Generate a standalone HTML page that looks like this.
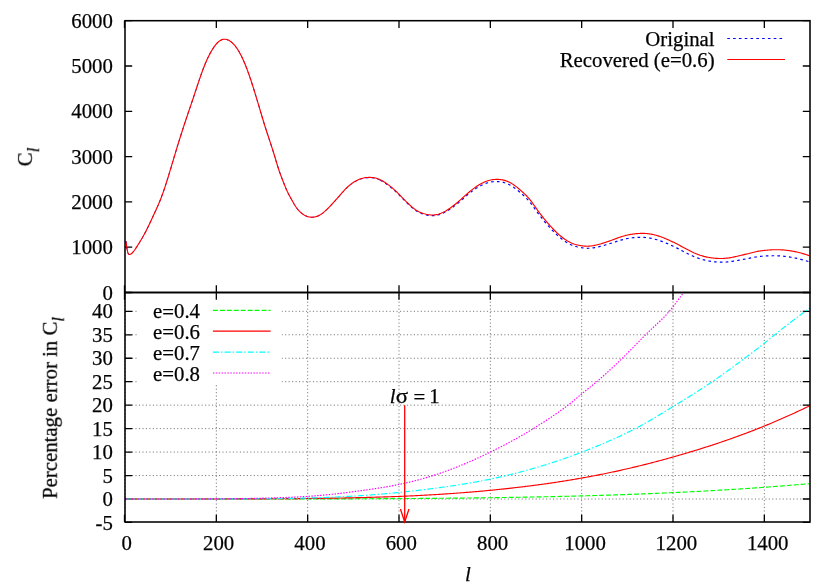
<!DOCTYPE html>
<html><head><meta charset="utf-8"><title>C_l recovery</title>
<style>
html,body{margin:0;padding:0;background:#fff;}
body{width:835px;height:585px;overflow:hidden;font-family:"Liberation Serif",serif;}
svg{display:block;}
</style></head><body>
<svg width="835" height="585" viewBox="0 0 835 585">
<rect width="835" height="585" fill="#fff"/>
<g stroke="#000" stroke-opacity="0.58" stroke-width="0.9" stroke-dasharray="1.16 2.32" fill="none">
<path d="M125.00,499.00 H810.00"/>
<path d="M125.00,475.54 H810.00"/>
<path d="M125.00,452.08 H810.00"/>
<path d="M125.00,428.62 H810.00"/>
<path d="M125.00,405.16 H810.00"/>
<path d="M125.00,381.70 H810.00"/>
<path d="M125.00,358.24 H810.00"/>
<path d="M125.00,334.78 H810.00"/>
<path d="M125.00,311.32 H810.00"/>
<path d="M125.00,522.00 V292.50"/>
<path d="M216.33,522.00 V292.50"/>
<path d="M307.67,522.00 V292.50"/>
<path d="M399.00,522.00 V292.50"/>
<path d="M490.33,522.00 V292.50"/>
<path d="M581.67,522.00 V292.50"/>
<path d="M673.00,522.00 V292.50"/>
<path d="M764.33,522.00 V292.50"/>
</g>
<rect x="137.2" y="292.50" width="144.40" height="91.50" fill="#fff"/>
<path d="M124.50,20.70 v7.2 M124.50,285.30 v14.4 M124.50,522.00 v-7.2 M216.33,20.70 v7.2 M216.33,285.30 v14.4 M216.33,522.00 v-7.2 M307.67,20.70 v7.2 M307.67,285.30 v14.4 M307.67,522.00 v-7.2 M399.00,20.70 v7.2 M399.00,285.30 v14.4 M399.00,522.00 v-7.2 M490.33,20.70 v7.2 M490.33,285.30 v14.4 M490.33,522.00 v-7.2 M581.67,20.70 v7.2 M581.67,285.30 v14.4 M581.67,522.00 v-7.2 M673.00,20.70 v7.2 M673.00,285.30 v14.4 M673.00,522.00 v-7.2 M764.33,20.70 v7.2 M764.33,285.30 v14.4 M764.33,522.00 v-7.2 M125.00,292.50 h7.2 M810.00,292.50 h-7.2 M125.00,247.20 h7.2 M810.00,247.20 h-7.2 M125.00,201.90 h7.2 M810.00,201.90 h-7.2 M125.00,156.60 h7.2 M810.00,156.60 h-7.2 M125.00,111.30 h7.2 M810.00,111.30 h-7.2 M125.00,66.00 h7.2 M810.00,66.00 h-7.2 M125.00,20.70 h7.2 M810.00,20.70 h-7.2 M125.00,522.46 h7.2 M810.00,522.46 h-7.2 M125.00,499.00 h7.2 M810.00,499.00 h-7.2 M125.00,475.54 h7.2 M810.00,475.54 h-7.2 M125.00,452.08 h7.2 M810.00,452.08 h-7.2 M125.00,428.62 h7.2 M810.00,428.62 h-7.2 M125.00,405.16 h7.2 M810.00,405.16 h-7.2 M125.00,381.70 h7.2 M810.00,381.70 h-7.2 M125.00,358.24 h7.2 M810.00,358.24 h-7.2 M125.00,334.78 h7.2 M810.00,334.78 h-7.2 M125.00,311.32 h7.2 M810.00,311.32 h-7.2" fill="none" stroke="#000" stroke-width="1.3"/>
<g fill="none" stroke-width="1.15" stroke-linejoin="round">
<path d="M126.00,241.20 L126.98,249.01 L127.96,253.06 L128.93,254.50 L129.91,254.50 L130.89,254.00 L131.87,253.24 L132.85,252.25 L133.82,251.08 L134.80,249.76 L135.78,248.33 L136.76,246.83 L137.74,245.30 L138.71,243.75 L139.69,242.18 L140.67,240.57 L141.65,238.93 L142.63,237.24 L143.60,235.51 L144.58,233.72 L145.56,231.88 L146.54,229.97 L147.52,228.01 L148.49,226.01 L149.47,223.96 L150.45,221.89 L151.43,219.79 L152.41,217.68 L153.38,215.56 L154.36,213.45 L155.34,211.35 L156.32,209.23 L157.29,207.07 L158.27,204.86 L159.25,202.57 L160.23,200.18 L161.21,197.68 L162.18,195.05 L163.16,192.32 L164.14,189.48 L165.12,186.56 L166.10,183.56 L167.07,180.49 L168.05,177.36 L169.03,174.17 L170.01,170.95 L170.99,167.70 L171.96,164.43 L172.94,161.15 L173.92,157.86 L174.90,154.59 L175.88,151.33 L176.85,148.11 L177.83,144.91 L178.81,141.75 L179.79,138.63 L180.77,135.53 L181.74,132.46 L182.72,129.43 L183.70,126.42 L184.68,123.44 L185.66,120.49 L186.63,117.57 L187.61,114.67 L188.59,111.80 L189.57,108.93 L190.55,106.07 L191.52,103.19 L192.50,100.30 L193.48,97.37 L194.46,94.41 L195.44,91.44 L196.41,88.47 L197.39,85.52 L198.37,82.58 L199.35,79.69 L200.33,76.84 L201.30,74.06 L202.28,71.35 L203.26,68.73 L204.24,66.21 L205.22,63.80 L206.19,61.50 L207.17,59.31 L208.15,57.23 L209.13,55.26 L210.11,53.39 L211.08,51.62 L212.06,49.96 L213.04,48.41 L214.02,46.95 L215.00,45.61 L215.97,44.37 L216.95,43.26 L217.93,42.28 L218.91,41.43 L219.88,40.72 L220.86,40.16 L221.84,39.72 L222.82,39.42 L223.80,39.26 L224.77,39.23 L225.75,39.32 L226.73,39.54 L227.71,39.88 L228.69,40.33 L229.66,40.89 L230.64,41.56 L231.62,42.33 L232.60,43.20 L233.58,44.18 L234.55,45.27 L235.53,46.46 L236.51,47.78 L237.49,49.21 L238.47,50.77 L239.44,52.44 L240.42,54.23 L241.40,56.13 L242.38,58.15 L243.36,60.28 L244.33,62.53 L245.31,64.88 L246.29,67.34 L247.27,69.91 L248.25,72.58 L249.22,75.33 L250.20,78.18 L251.18,81.10 L252.16,84.09 L253.14,87.15 L254.11,90.26 L255.09,93.43 L256.07,96.64 L257.05,99.88 L258.03,103.16 L259.00,106.45 L259.98,109.75 L260.96,113.05 L261.94,116.33 L262.92,119.58 L263.89,122.79 L264.87,125.95 L265.85,129.05 L266.83,132.07 L267.81,135.06 L268.78,138.01 L269.76,140.95 L270.74,143.91 L271.72,146.90 L272.70,149.94 L273.67,153.05 L274.65,156.26 L275.63,159.53 L276.61,162.80 L277.59,166.00 L278.56,169.06 L279.54,171.93 L280.52,174.65 L281.50,177.25 L282.47,179.79 L283.45,182.30 L284.43,184.77 L285.41,187.18 L286.39,189.48 L287.36,191.64 L288.34,193.65 L289.32,195.54 L290.30,197.36 L291.28,199.13 L292.25,200.88 L293.23,202.61 L294.21,204.27 L295.19,205.84 L296.17,207.30 L297.14,208.63 L298.12,209.85 L299.10,210.95 L300.08,211.94 L301.06,212.83 L302.03,213.63 L303.01,214.33 L303.99,214.95 L304.97,215.50 L305.95,215.97 L306.92,216.37 L307.90,216.69 L308.88,216.94 L309.86,217.13 L310.84,217.24 L311.81,217.29 L312.79,217.27 L313.77,217.18 L314.75,217.03 L315.73,216.81 L316.70,216.52 L317.68,216.16 L318.66,215.73 L319.64,215.23 L320.62,214.66 L321.59,214.01 L322.57,213.30 L323.55,212.52 L324.53,211.69 L325.51,210.81 L326.48,209.89 L327.46,208.93 L328.44,207.95 L329.42,206.94 L330.40,205.93 L331.37,204.90 L332.35,203.86 L333.33,202.81 L334.31,201.75 L335.29,200.68 L336.26,199.60 L337.24,198.50 L338.22,197.40 L339.20,196.28 L340.18,195.16 L341.15,194.03 L342.13,192.92 L343.11,191.82 L344.09,190.75 L345.06,189.70 L346.04,188.69 L347.02,187.73 L348.00,186.82 L348.98,185.96 L349.95,185.15 L350.93,184.38 L351.91,183.66 L352.89,182.99 L353.87,182.36 L354.84,181.78 L355.82,181.23 L356.80,180.73 L357.78,180.26 L358.76,179.84 L359.73,179.46 L360.71,179.12 L361.69,178.82 L362.67,178.55 L363.65,178.33 L364.62,178.15 L365.60,178.01 L366.58,177.91 L367.56,177.84 L368.54,177.80 L369.51,177.79 L370.49,177.82 L371.47,177.88 L372.45,177.97 L373.43,178.09 L374.40,178.26 L375.38,178.47 L376.36,178.72 L377.34,179.03 L378.32,179.38 L379.29,179.79 L380.27,180.24" stroke="#0000ff" stroke-width="0.95" stroke-dasharray="2.62 3.18"/>
<path d="M380.27,180.24 L381.25,180.73 L382.23,181.27 L383.21,181.84 L384.18,182.45 L385.16,183.09 L386.14,183.75 L387.12,184.44 L388.10,185.15 L389.07,185.89 L390.05,186.65 L391.03,187.43 L392.01,188.25 L392.99,189.09 L393.96,189.96 L394.94,190.86 L395.92,191.78 L396.90,192.74 L397.88,193.71 L398.85,194.69 L399.83,195.69 L400.81,196.70 L401.79,197.70 L402.77,198.70 L403.74,199.70 L404.72,200.68 L405.70,201.66 L406.68,202.61 L407.65,203.56 L408.63,204.49 L409.61,205.40 L410.59,206.28 L411.57,207.15 L412.54,207.97 L413.52,208.77 L414.50,209.52 L415.48,210.23 L416.46,210.89 L417.43,211.49 L418.41,212.04 L419.39,212.54 L420.37,212.99 L421.35,213.39 L422.32,213.76 L423.30,214.09 L424.28,214.38 L425.26,214.65 L426.24,214.89 L427.21,215.11 L428.19,215.30 L429.17,215.45 L430.15,215.57 L431.13,215.65 L432.10,215.69 L433.08,215.68 L434.06,215.63 L435.04,215.53 L436.02,215.38 L436.99,215.19 L437.97,214.96 L438.95,214.69 L439.93,214.38 L440.91,214.03 L441.88,213.64 L442.86,213.22 L443.84,212.76 L444.82,212.27 L445.80,211.75 L446.77,211.20 L447.75,210.61 L448.73,210.00 L449.71,209.37 L450.69,208.71 L451.66,208.02 L452.64,207.31 L453.62,206.59 L454.60,205.84 L455.58,205.07 L456.55,204.29 L457.53,203.49 L458.51,202.67 L459.49,201.84 L460.47,201.00 L461.44,200.15 L462.42,199.29 L463.40,198.43 L464.38,197.57 L465.36,196.71 L466.33,195.86 L467.31,195.03 L468.29,194.20 L469.27,193.40 L470.24,192.62 L471.22,191.85 L472.20,191.11 L473.18,190.39 L474.16,189.69 L475.13,189.02 L476.11,188.37 L477.09,187.74 L478.07,187.14 L479.05,186.57 L480.02,186.03 L481.00,185.51 L481.98,185.02 L482.96,184.56 L483.94,184.13 L484.91,183.73 L485.89,183.37 L486.87,183.03 L487.85,182.73 L488.83,182.46 L489.80,182.23 L490.78,182.03 L491.76,181.87 L492.74,181.74 L493.72,181.66 L494.69,181.60 L495.67,181.58 L496.65,181.59 L497.63,181.63 L498.61,181.69 L499.58,181.77 L500.56,181.89 L501.54,182.04 L502.52,182.23 L503.50,182.45 L504.47,182.71 L505.45,183.02 L506.43,183.37 L507.41,183.77 L508.39,184.20 L509.36,184.68 L510.34,185.20 L511.32,185.76 L512.30,186.36 L513.28,187.01 L514.25,187.69 L515.23,188.41 L516.21,189.16 L517.19,189.94 L518.17,190.75 L519.14,191.57 L520.12,192.42 L521.10,193.27 L522.08,194.14 L523.06,195.02 L524.03,195.92 L525.01,196.85 L525.99,197.81 L526.97,198.81 L527.95,199.86 L528.92,200.96 L529.90,202.12 L530.88,203.35 L531.86,204.63 L532.83,205.95 L533.81,207.31 L534.79,208.68 L535.77,210.07 L536.75,211.45 L537.72,212.82 L538.70,214.16 L539.68,215.47 L540.66,216.74 L541.64,217.99 L542.61,219.21 L543.59,220.41 L544.57,221.58 L545.55,222.74 L546.53,223.87 L547.50,224.99 L548.48,226.10 L549.46,227.19 L550.44,228.27 L551.42,229.32 L552.39,230.36 L553.37,231.37 L554.35,232.36 L555.33,233.33 L556.31,234.27 L557.28,235.18 L558.26,236.06 L559.24,236.91 L560.22,237.74 L561.20,238.53 L562.17,239.30 L563.15,240.03 L564.13,240.73 L565.11,241.40 L566.09,242.04 L567.06,242.64 L568.04,243.21 L569.02,243.74 L570.00,244.24 L570.98,244.71 L571.95,245.14 L572.93,245.53 L573.91,245.89 L574.89,246.22 L575.87,246.51 L576.84,246.78 L577.82,247.02 L578.80,247.23 L579.78,247.43 L580.76,247.60 L581.73,247.76 L582.71,247.90 L583.69,248.03 L584.67,248.13 L585.65,248.21 L586.62,248.26 L587.60,248.28 L588.58,248.27 L589.56,248.24 L590.54,248.17 L591.51,248.08 L592.49,247.96 L593.47,247.82 L594.45,247.66 L595.42,247.48 L596.40,247.28 L597.38,247.07 L598.36,246.85 L599.34,246.62 L600.31,246.38 L601.29,246.13 L602.27,245.87 L603.25,245.60 L604.23,245.32 L605.20,245.04 L606.18,244.75 L607.16,244.46 L608.14,244.15 L609.12,243.85 L610.09,243.54 L611.07,243.23 L612.05,242.91 L613.03,242.59 L614.01,242.27 L614.98,241.95 L615.96,241.63 L616.94,241.31 L617.92,241.00 L618.90,240.69 L619.87,240.39 L620.85,240.10 L621.83,239.82 L622.81,239.55 L623.79,239.30 L624.76,239.07 L625.74,238.85 L626.72,238.65 L627.70,238.47 L628.68,238.30 L629.65,238.15 L630.63,238.01 L631.61,237.88 L632.59,237.77 L633.57,237.67 L634.54,237.59 L635.52,237.51 L636.50,237.45 L637.48,237.40 L638.46,237.37 L639.43,237.35 L640.41,237.34 L641.39,237.35 L642.37,237.37 L643.35,237.40 L644.32,237.45 L645.30,237.52 L646.28,237.60 L647.26,237.71 L648.24,237.83 L649.21,237.97 L650.19,238.13 L651.17,238.31 L652.15,238.51 L653.13,238.72 L654.10,238.96 L655.08,239.21 L656.06,239.48 L657.04,239.77 L658.01,240.07 L658.99,240.39 L659.97,240.72 L660.95,241.07 L661.93,241.43 L662.90,241.80 L663.88,242.18 L664.86,242.57 L665.84,242.98 L666.82,243.39 L667.79,243.81 L668.77,244.24 L669.75,244.67 L670.73,245.11 L671.71,245.56 L672.68,246.02 L673.66,246.48 L674.64,246.95 L675.62,247.42 L676.60,247.90 L677.57,248.39 L678.55,248.88 L679.53,249.38 L680.51,249.88 L681.49,250.39 L682.46,250.91 L683.44,251.42 L684.42,251.93 L685.40,252.44 L686.38,252.95 L687.35,253.45 L688.33,253.93 L689.31,254.41 L690.29,254.87 L691.27,255.32 L692.24,255.76 L693.22,256.18 L694.20,256.60 L695.18,256.99 L696.16,257.38 L697.13,257.75 L698.11,258.11 L699.09,258.45 L700.07,258.78 L701.05,259.10 L702.02,259.39 L703.00,259.68 L703.98,259.94 L704.96,260.19 L705.94,260.43 L706.91,260.64 L707.89,260.84 L708.87,261.03 L709.85,261.19 L710.83,261.35 L711.80,261.49 L712.78,261.61 L713.76,261.73 L714.74,261.83 L715.72,261.92 L716.69,261.99 L717.67,262.06 L718.65,262.11 L719.63,262.15 L720.60,262.17 L721.58,262.18 L722.56,262.17 L723.54,262.15 L724.52,262.12 L725.49,262.07 L726.47,262.01 L727.45,261.93 L728.43,261.84 L729.41,261.73 L730.38,261.62 L731.36,261.48 L732.34,261.34 L733.32,261.18 L734.30,261.01 L735.27,260.84 L736.25,260.66 L737.23,260.48 L738.21,260.29 L739.19,260.11 L740.16,259.93 L741.14,259.75 L742.12,259.58 L743.10,259.41 L744.08,259.24 L745.05,259.06 L746.03,258.89 L747.01,258.71 L747.99,258.52 L748.97,258.33 L749.94,258.13 L750.92,257.93 L751.90,257.73 L752.88,257.54 L753.86,257.35 L754.83,257.17 L755.81,257.00 L756.79,256.84 L757.77,256.70 L758.75,256.57 L759.72,256.46 L760.70,256.36 L761.68,256.27 L762.66,256.19 L763.64,256.12 L764.61,256.06 L765.59,256.01 L766.57,255.96 L767.55,255.91 L768.53,255.87 L769.50,255.83 L770.48,255.81 L771.46,255.79 L772.44,255.77 L773.42,255.77 L774.39,255.77 L775.37,255.78 L776.35,255.80 L777.33,255.83 L778.31,255.87 L779.28,255.91 L780.26,255.97 L781.24,256.04 L782.22,256.12 L783.19,256.20 L784.17,256.30 L785.15,256.41 L786.13,256.52 L787.11,256.65 L788.08,256.78 L789.06,256.92 L790.04,257.08 L791.02,257.24 L792.00,257.41 L792.97,257.59 L793.95,257.78 L794.93,257.97 L795.91,258.18 L796.89,258.39 L797.86,258.61 L798.84,258.84 L799.82,259.08 L800.80,259.33 L801.78,259.58 L802.75,259.84 L803.73,260.11 L804.71,260.39 L805.69,260.67 L806.67,260.96 L807.64,261.26 L808.62,261.57 L809.60,261.88" stroke="#0000ff" stroke-width="1.2" stroke-dasharray="2.62 3.18"/>
<path d="M126.00,241.20 L126.98,249.01 L127.96,253.06 L128.93,254.50 L129.91,254.50 L130.89,254.00 L131.87,253.24 L132.85,252.25 L133.82,251.08 L134.80,249.76 L135.78,248.33 L136.76,246.83 L137.74,245.30 L138.71,243.75 L139.69,242.18 L140.67,240.57 L141.65,238.93 L142.63,237.24 L143.60,235.51 L144.58,233.72 L145.56,231.88 L146.54,229.97 L147.52,228.01 L148.49,226.01 L149.47,223.96 L150.45,221.89 L151.43,219.79 L152.41,217.68 L153.38,215.56 L154.36,213.45 L155.34,211.35 L156.32,209.23 L157.29,207.07 L158.27,204.86 L159.25,202.57 L160.23,200.18 L161.21,197.68 L162.18,195.05 L163.16,192.32 L164.14,189.48 L165.12,186.56 L166.10,183.56 L167.07,180.49 L168.05,177.35 L169.03,174.17 L170.01,170.95 L170.99,167.70 L171.96,164.43 L172.94,161.14 L173.92,157.86 L174.90,154.59 L175.88,151.33 L176.85,148.11 L177.83,144.91 L178.81,141.75 L179.79,138.62 L180.77,135.53 L181.74,132.46 L182.72,129.43 L183.70,126.42 L184.68,123.44 L185.66,120.49 L186.63,117.57 L187.61,114.67 L188.59,111.79 L189.57,108.93 L190.55,106.07 L191.52,103.19 L192.50,100.29 L193.48,97.36 L194.46,94.41 L195.44,91.44 L196.41,88.47 L197.39,85.51 L198.37,82.58 L199.35,79.68 L200.33,76.84 L201.30,74.05 L202.28,71.35 L203.26,68.73 L204.24,66.21 L205.22,63.79 L206.19,61.49 L207.17,59.30 L208.15,57.22 L209.13,55.25 L210.11,53.38 L211.08,51.61 L212.06,49.95 L213.04,48.39 L214.02,46.94 L215.00,45.59 L215.97,44.36 L216.95,43.25 L217.93,42.26 L218.91,41.41 L219.88,40.70 L220.86,40.13 L221.84,39.70 L222.82,39.40 L223.80,39.24 L224.77,39.20 L225.75,39.30 L226.73,39.51 L227.71,39.85 L228.69,40.30 L229.66,40.87 L230.64,41.53 L231.62,42.30 L232.60,43.17 L233.58,44.14 L234.55,45.23 L235.53,46.43 L236.51,47.74 L237.49,49.18 L238.47,50.73 L239.44,52.40 L240.42,54.19 L241.40,56.09 L242.38,58.11 L243.36,60.24 L244.33,62.48 L245.31,64.83 L246.29,67.29 L247.27,69.86 L248.25,72.53 L249.22,75.28 L250.20,78.13 L251.18,81.05 L252.16,84.04 L253.14,87.09 L254.11,90.21 L255.09,93.37 L256.07,96.58 L257.05,99.83 L258.03,103.10 L259.00,106.39 L259.98,109.70 L260.96,112.99 L261.94,116.27 L262.92,119.52 L263.89,122.73 L264.87,125.89 L265.85,128.98 L266.83,132.01 L267.81,134.99 L268.78,137.94 L269.76,140.89 L270.74,143.85 L271.72,146.83 L272.70,149.87 L273.67,152.99 L274.65,156.19 L275.63,159.46 L276.61,162.73 L277.59,165.93 L278.56,168.99 L279.54,171.86 L280.52,174.58 L281.50,177.18 L282.47,179.72 L283.45,182.23 L284.43,184.71 L285.41,187.11 L286.39,189.41 L287.36,191.57 L288.34,193.58 L289.32,195.47 L290.30,197.29 L291.28,199.06 L292.25,200.81 L293.23,202.54 L294.21,204.20 L295.19,205.77 L296.17,207.23 L297.14,208.56 L298.12,209.77 L299.10,210.87 L300.08,211.86 L301.06,212.75 L302.03,213.55 L303.01,214.25 L303.99,214.88 L304.97,215.42 L305.95,215.89 L306.92,216.29 L307.90,216.61 L308.88,216.86 L309.86,217.04 L310.84,217.15 L311.81,217.20 L312.79,217.18 L313.77,217.09 L314.75,216.93 L315.73,216.71 L316.70,216.42 L317.68,216.05 L318.66,215.62 L319.64,215.12 L320.62,214.54 L321.59,213.90 L322.57,213.18 L323.55,212.40 L324.53,211.57 L325.51,210.68 L326.48,209.76 L327.46,208.80 L328.44,207.81 L329.42,206.80 L330.40,205.78 L331.37,204.74 L332.35,203.70 L333.33,202.65 L334.31,201.58 L335.29,200.51 L336.26,199.42 L337.24,198.32 L338.22,197.21 L339.20,196.08 L340.18,194.95 L341.15,193.82 L342.13,192.70 L343.11,191.60 L344.09,190.52 L345.06,189.47 L346.04,188.45 L347.02,187.48 L348.00,186.56 L348.98,185.70 L349.95,184.88 L350.93,184.11 L351.91,183.38 L352.89,182.70 L353.87,182.07 L354.84,181.47 L355.82,180.92 L356.80,180.41 L357.78,179.94 L358.76,179.51 L359.73,179.12 L360.71,178.78 L361.69,178.47 L362.67,178.20 L363.65,177.97 L364.62,177.78 L365.60,177.64 L366.58,177.52 L367.56,177.45 L368.54,177.41 L369.51,177.39 L370.49,177.41 L371.47,177.46 L372.45,177.55 L373.43,177.67 L374.40,177.83 L375.38,178.03 L376.36,178.28 L377.34,178.58 L378.32,178.93 L379.29,179.33 L380.27,179.77 L381.25,180.26 L382.23,180.80 L383.21,181.36 L384.18,181.97 L385.16,182.60 L386.14,183.26 L387.12,183.94 L388.10,184.65 L389.07,185.38 L390.05,186.14 L391.03,186.92 L392.01,187.73 L392.99,188.57 L393.96,189.44 L394.94,190.33 L395.92,191.26 L396.90,192.20 L397.88,193.17 L398.85,194.16 L399.83,195.15 L400.81,196.15 L401.79,197.16 L402.77,198.16 L403.74,199.15 L404.72,200.13 L405.70,201.10 L406.68,202.06 L407.65,203.00 L408.63,203.92 L409.61,204.83 L410.59,205.72 L411.57,206.57 L412.54,207.40 L413.52,208.19 L414.50,208.94 L415.48,209.64 L416.46,210.30 L417.43,210.90 L418.41,211.44 L419.39,211.94 L420.37,212.38 L421.35,212.78 L422.32,213.14 L423.30,213.46 L424.28,213.75 L425.26,214.01 L426.24,214.25 L427.21,214.46 L428.19,214.64 L429.17,214.79 L430.15,214.90 L431.13,214.97 L432.10,215.00 L433.08,214.98 L434.06,214.92 L435.04,214.81 L436.02,214.65 L436.99,214.45 L437.97,214.21 L438.95,213.93 L439.93,213.60 L440.91,213.24 L441.88,212.84 L442.86,212.40 L443.84,211.92 L444.82,211.42 L445.80,210.88 L446.77,210.31 L447.75,209.71 L448.73,209.08 L449.71,208.42 L450.69,207.74 L451.66,207.04 L452.64,206.31 L453.62,205.56 L454.60,204.79 L455.58,204.00 L456.55,203.19 L457.53,202.37 L458.51,201.53 L459.49,200.68 L460.47,199.81 L461.44,198.93 L462.42,198.05 L463.40,197.16 L464.38,196.27 L465.36,195.39 L466.33,194.51 L467.31,193.65 L468.29,192.80 L469.27,191.96 L470.24,191.15 L471.22,190.36 L472.20,189.59 L473.18,188.84 L474.16,188.11 L475.13,187.41 L476.11,186.73 L477.09,186.07 L478.07,185.45 L479.05,184.85 L480.02,184.27 L481.00,183.73 L481.98,183.21 L482.96,182.72 L483.94,182.27 L484.91,181.84 L485.89,181.45 L486.87,181.08 L487.85,180.75 L488.83,180.46 L489.80,180.20 L490.78,179.97 L491.76,179.79 L492.74,179.64 L493.72,179.53 L494.69,179.45 L495.67,179.41 L496.65,179.39 L497.63,179.40 L498.61,179.44 L499.58,179.51 L500.56,179.60 L501.54,179.73 L502.52,179.90 L503.50,180.10 L504.47,180.35 L505.45,180.64 L506.43,180.97 L507.41,181.35 L508.39,181.77 L509.36,182.23 L510.34,182.74 L511.32,183.29 L512.30,183.88 L513.28,184.51 L514.25,185.19 L515.23,185.90 L516.21,186.65 L517.19,187.42 L518.17,188.22 L519.14,189.04 L520.12,189.88 L521.10,190.74 L522.08,191.60 L523.06,192.48 L524.03,193.38 L525.01,194.31 L525.99,195.27 L526.97,196.27 L527.95,197.32 L528.92,198.43 L529.90,199.60 L530.88,200.84 L531.86,202.13 L532.83,203.47 L533.81,204.84 L534.79,206.23 L535.77,207.63 L536.75,209.03 L537.72,210.42 L538.70,211.78 L539.68,213.11 L540.66,214.40 L541.64,215.67 L542.61,216.90 L543.59,218.12 L544.57,219.31 L545.55,220.48 L546.53,221.63 L547.50,222.77 L548.48,223.89 L549.46,225.00 L550.44,226.09 L551.42,227.17 L552.39,228.22 L553.37,229.25 L554.35,230.25 L555.33,231.23 L556.31,232.19 L557.28,233.11 L558.26,234.01 L559.24,234.88 L560.22,235.71 L561.20,236.52 L562.17,237.30 L563.15,238.04 L564.13,238.75 L565.11,239.43 L566.09,240.07 L567.06,240.68 L568.04,241.26 L569.02,241.79 L570.00,242.30 L570.98,242.77 L571.95,243.20 L572.93,243.59 L573.91,243.95 L574.89,244.27 L575.87,244.56 L576.84,244.82 L577.82,245.05 L578.80,245.26 L579.78,245.45 L580.76,245.61 L581.73,245.76 L582.71,245.90 L583.69,246.01 L584.67,246.10 L585.65,246.16 L586.62,246.20 L587.60,246.21 L588.58,246.18 L589.56,246.13 L590.54,246.04 L591.51,245.93 L592.49,245.78 L593.47,245.62 L594.45,245.43 L595.42,245.23 L596.40,245.00 L597.38,244.76 L598.36,244.51 L599.34,244.25 L600.31,243.97 L601.29,243.69 L602.27,243.40 L603.25,243.10 L604.23,242.79 L605.20,242.47 L606.18,242.14 L607.16,241.81 L608.14,241.47 L609.12,241.13 L610.09,240.78 L611.07,240.43 L612.05,240.07 L613.03,239.71 L614.01,239.35 L614.98,238.99 L615.96,238.63 L616.94,238.27 L617.92,237.91 L618.90,237.56 L619.87,237.22 L620.85,236.88 L621.83,236.56 L622.81,236.25 L623.79,235.96 L624.76,235.69 L625.74,235.43 L626.72,235.20 L627.70,234.97 L628.68,234.77 L629.65,234.58 L630.63,234.41 L631.61,234.25 L632.59,234.10 L633.57,233.97 L634.54,233.85 L635.52,233.74 L636.50,233.65 L637.48,233.57 L638.46,233.50 L639.43,233.45 L640.41,233.42 L641.39,233.40 L642.37,233.39 L643.35,233.40 L644.32,233.42 L645.30,233.47 L646.28,233.53 L647.26,233.61 L648.24,233.71 L649.21,233.83 L650.19,233.97 L651.17,234.14 L652.15,234.32 L653.13,234.53 L654.10,234.76 L655.08,235.00 L656.06,235.26 L657.04,235.54 L658.01,235.84 L658.99,236.16 L659.97,236.49 L660.95,236.83 L661.93,237.19 L662.90,237.56 L663.88,237.95 L664.86,238.35 L665.84,238.75 L666.82,239.17 L667.79,239.60 L668.77,240.04 L669.75,240.49 L670.73,240.94 L671.71,241.40 L672.68,241.87 L673.66,242.34 L674.64,242.83 L675.62,243.31 L676.60,243.81 L677.57,244.32 L678.55,244.83 L679.53,245.35 L680.51,245.87 L681.49,246.41 L682.46,246.94 L683.44,247.48 L684.42,248.02 L685.40,248.55 L686.38,249.08 L687.35,249.60 L688.33,250.11 L689.31,250.61 L690.29,251.10 L691.27,251.57 L692.24,252.03 L693.22,252.47 L694.20,252.91 L695.18,253.32 L696.16,253.73 L697.13,254.11 L698.11,254.49 L699.09,254.84 L700.07,255.19 L701.05,255.51 L702.02,255.82 L703.00,256.11 L703.98,256.39 L704.96,256.64 L705.94,256.88 L706.91,257.10 L707.89,257.30 L708.87,257.48 L709.85,257.65 L710.83,257.80 L711.80,257.93 L712.78,258.05 L713.76,258.16 L714.74,258.25 L715.72,258.33 L716.69,258.39 L717.67,258.44 L718.65,258.48 L719.63,258.50 L720.60,258.50 L721.58,258.49 L722.56,258.46 L723.54,258.42 L724.52,258.36 L725.49,258.28 L726.47,258.19 L727.45,258.08 L728.43,257.96 L729.41,257.82 L730.38,257.66 L731.36,257.49 L732.34,257.30 L733.32,257.10 L734.30,256.89 L735.27,256.67 L736.25,256.44 L737.23,256.21 L738.21,255.98 L739.19,255.74 L740.16,255.52 L741.14,255.29 L742.12,255.07 L743.10,254.85 L744.08,254.62 L745.05,254.40 L746.03,254.17 L747.01,253.94 L747.99,253.70 L748.97,253.46 L749.94,253.21 L750.92,252.95 L751.90,252.69 L752.88,252.44 L753.86,252.20 L754.83,251.96 L755.81,251.73 L756.79,251.52 L757.77,251.33 L758.75,251.16 L759.72,251.00 L760.70,250.85 L761.68,250.72 L762.66,250.60 L763.64,250.49 L764.61,250.39 L765.59,250.29 L766.57,250.20 L767.55,250.12 L768.53,250.04 L769.50,249.97 L770.48,249.90 L771.46,249.85 L772.44,249.80 L773.42,249.76 L774.39,249.73 L775.37,249.71 L776.35,249.70 L777.33,249.70 L778.31,249.71 L779.28,249.73 L780.26,249.77 L781.24,249.82 L782.22,249.87 L783.19,249.94 L784.17,250.02 L785.15,250.11 L786.13,250.21 L787.11,250.33 L788.08,250.45 L789.06,250.59 L790.04,250.73 L791.02,250.89 L792.00,251.06 L792.97,251.24 L793.95,251.43 L794.93,251.63 L795.91,251.84 L796.89,252.06 L797.86,252.29 L798.84,252.53 L799.82,252.78 L800.80,253.04 L801.78,253.31 L802.75,253.58 L803.73,253.87 L804.71,254.17 L805.69,254.48 L806.67,254.80 L807.64,255.12 L808.62,255.46 L809.60,255.80" stroke="#ff0000"/>
<path d="M125.91,499.00 L127.06,499.00 L128.20,499.00 L129.34,499.00 L130.48,499.00 L131.62,499.00 L132.77,499.00 L133.91,499.00 L135.05,499.00 L136.19,499.00 L137.33,499.00 L138.48,499.00 L139.62,499.00 L140.76,499.00 L141.90,499.00 L143.04,499.00 L144.19,499.00 L145.33,499.00 L146.47,499.00 L147.61,499.00 L148.75,499.00 L149.90,499.00 L151.04,499.00 L152.18,499.00 L153.32,499.00 L154.46,499.00 L155.61,499.00 L156.75,499.00 L157.89,499.00 L159.03,499.00 L160.17,499.00 L161.32,499.00 L162.46,499.00 L163.60,499.00 L164.74,499.00 L165.89,499.00 L167.03,499.00 L168.17,499.00 L169.31,499.00 L170.45,499.00 L171.60,499.00 L172.74,499.00 L173.88,499.00 L175.02,499.00 L176.16,499.00 L177.31,499.00 L178.45,499.00 L179.59,499.00 L180.73,499.00 L181.87,499.00 L183.02,499.00 L184.16,499.00 L185.30,499.00 L186.44,499.00 L187.58,499.00 L188.73,499.00 L189.87,499.00 L191.01,499.00 L192.15,499.00 L193.29,499.00 L194.44,499.00 L195.58,499.00 L196.72,499.00 L197.86,499.00 L199.00,499.00 L200.15,499.00 L201.29,499.00 L202.43,499.00 L203.57,499.00 L204.71,499.00 L205.86,499.00 L207.00,499.00 L208.14,499.00 L209.28,499.00 L210.42,499.00 L211.57,499.00 L212.71,499.00 L213.85,499.00 L214.99,498.99 L216.14,498.99 L217.28,498.99 L218.42,498.99 L219.56,498.99 L220.70,498.99 L221.85,498.99 L222.99,498.99 L224.13,498.99 L225.27,498.99 L226.41,498.99 L227.56,498.99 L228.70,498.99 L229.84,498.99 L230.98,498.99 L232.12,498.99 L233.27,498.99 L234.41,498.99 L235.55,498.99 L236.69,498.99 L237.83,498.99 L238.98,498.99 L240.12,498.99 L241.26,498.99 L242.40,498.99 L243.54,498.98 L244.69,498.98 L245.83,498.98 L246.97,498.98 L248.11,498.98 L249.25,498.98 L250.40,498.98 L251.54,498.98 L252.68,498.98 L253.82,498.98 L254.96,498.98 L256.11,498.98 L257.25,498.98 L258.39,498.98 L259.53,498.98 L260.67,498.97 L261.82,498.97 L262.96,498.97 L264.10,498.97 L265.24,498.97 L266.39,498.97 L267.53,498.97 L268.67,498.97 L269.81,498.97 L270.95,498.97 L272.10,498.96 L273.24,498.96 L274.38,498.96 L275.52,498.96 L276.66,498.96 L277.81,498.96 L278.95,498.96 L280.09,498.96 L281.23,498.96 L282.37,498.95 L283.52,498.95 L284.66,498.95 L285.80,498.95 L286.94,498.95 L288.08,498.95 L289.23,498.95 L290.37,498.94 L291.51,498.94 L292.65,498.94 L293.79,498.94 L294.94,498.94 L296.08,498.94 L297.22,498.93 L298.36,498.93 L299.50,498.93 L300.65,498.93 L301.79,498.93 L302.93,498.93 L304.07,498.92 L305.21,498.92 L306.36,498.92 L307.50,498.92 L308.64,498.92 L309.78,498.91 L310.93,498.91 L312.07,498.91 L313.21,498.91 L314.35,498.90 L315.49,498.90 L316.64,498.90 L317.78,498.90 L318.92,498.89 L320.06,498.89 L321.20,498.89 L322.35,498.89 L323.49,498.88 L324.63,498.88 L325.77,498.88 L326.91,498.88 L328.06,498.87 L329.20,498.87 L330.34,498.87 L331.48,498.87 L332.62,498.86 L333.77,498.86 L334.91,498.86 L336.05,498.85 L337.19,498.85 L338.33,498.85 L339.48,498.84 L340.62,498.84 L341.76,498.84 L342.90,498.83 L344.04,498.83 L345.19,498.83 L346.33,498.82 L347.47,498.82 L348.61,498.82 L349.75,498.81 L350.90,498.81 L352.04,498.80 L353.18,498.80 L354.32,498.80 L355.46,498.79 L356.61,498.79 L357.75,498.78 L358.89,498.78 L360.03,498.77 L361.18,498.77 L362.32,498.77 L363.46,498.76 L364.60,498.76 L365.74,498.75 L366.89,498.75 L368.03,498.74 L369.17,498.74 L370.31,498.73 L371.45,498.73 L372.60,498.72 L373.74,498.72 L374.88,498.71 L376.02,498.71 L377.16,498.70 L378.31,498.70 L379.45,498.69 L380.59,498.69 L381.73,498.68 L382.87,498.68 L384.02,498.67 L385.16,498.66 L386.30,498.66 L387.44,498.65 L388.58,498.65 L389.73,498.64 L390.87,498.63 L392.01,498.63 L393.15,498.62 L394.29,498.61 L395.44,498.61 L396.58,498.60 L397.72,498.60 L398.86,498.59 L400.00,498.58 L401.15,498.57 L402.29,498.57 L403.43,498.56 L404.57,498.55 L405.72,498.55 L406.86,498.54 L408.00,498.53 L409.14,498.52 L410.28,498.52 L411.43,498.51 L412.57,498.50 L413.71,498.49 L414.85,498.48 L415.99,498.48 L417.14,498.47 L418.28,498.46 L419.42,498.45 L420.56,498.44 L421.70,498.44 L422.85,498.43 L423.99,498.42 L425.13,498.41 L426.27,498.40 L427.41,498.39 L428.56,498.38 L429.70,498.37 L430.84,498.36 L431.98,498.35 L433.12,498.34 L434.27,498.33 L435.41,498.32 L436.55,498.31 L437.69,498.31 L438.83,498.29 L439.98,498.28 L441.12,498.27 L442.26,498.26 L443.40,498.25 L444.54,498.24 L445.69,498.23 L446.83,498.22 L447.97,498.21 L449.11,498.20 L450.25,498.19 L451.40,498.18 L452.54,498.17 L453.68,498.15 L454.82,498.14 L455.97,498.13 L457.11,498.12 L458.25,498.11 L459.39,498.09 L460.53,498.08 L461.68,498.07 L462.82,498.06 L463.96,498.04 L465.10,498.03 L466.24,498.02 L467.39,498.01 L468.53,497.99 L469.67,497.98 L470.81,497.97 L471.95,497.95 L473.10,497.94 L474.24,497.92 L475.38,497.91 L476.52,497.90 L477.66,497.88 L478.81,497.87 L479.95,497.85 L481.09,497.84 L482.23,497.82 L483.37,497.81 L484.52,497.79 L485.66,497.78 L486.80,497.76 L487.94,497.75 L489.08,497.73 L490.23,497.72 L491.37,497.70 L492.51,497.68 L493.65,497.67 L494.79,497.65 L495.94,497.64 L497.08,497.62 L498.22,497.60 L499.36,497.58 L500.51,497.57 L501.65,497.55 L502.79,497.53 L503.93,497.52 L505.07,497.50 L506.22,497.48 L507.36,497.46 L508.50,497.44 L509.64,497.43 L510.78,497.41 L511.93,497.39 L513.07,497.37 L514.21,497.35 L515.35,497.33 L516.49,497.31 L517.64,497.29 L518.78,497.27 L519.92,497.25 L521.06,497.23 L522.20,497.21 L523.35,497.19 L524.49,497.17 L525.63,497.15 L526.77,497.13 L527.91,497.11 L529.06,497.09 L530.20,497.07 L531.34,497.04 L532.48,497.02 L533.62,497.00 L534.77,496.98 L535.91,496.96 L537.05,496.93 L538.19,496.91 L539.33,496.89 L540.48,496.86 L541.62,496.84 L542.76,496.82 L543.90,496.79 L545.04,496.77 L546.19,496.75 L547.33,496.72 L548.47,496.70 L549.61,496.67 L550.76,496.65 L551.90,496.62 L553.04,496.60 L554.18,496.57 L555.32,496.55 L556.47,496.52 L557.61,496.49 L558.75,496.47 L559.89,496.44 L561.03,496.42 L562.18,496.39 L563.32,496.36 L564.46,496.33 L565.60,496.31 L566.74,496.28 L567.89,496.25 L569.03,496.22 L570.17,496.20 L571.31,496.17 L572.45,496.14 L573.60,496.11 L574.74,496.08 L575.88,496.05 L577.02,496.02 L578.16,495.99 L579.31,495.96 L580.45,495.93 L581.59,495.90 L582.73,495.87 L583.87,495.84 L585.02,495.81 L586.16,495.78 L587.30,495.74 L588.44,495.71 L589.58,495.68 L590.73,495.65 L591.87,495.61 L593.01,495.58 L594.15,495.55 L595.30,495.52 L596.44,495.48 L597.58,495.45 L598.72,495.41 L599.86,495.38 L601.01,495.35 L602.15,495.31 L603.29,495.28 L604.43,495.24 L605.57,495.21 L606.72,495.17 L607.86,495.13 L609.00,495.10 L610.14,495.06 L611.28,495.02 L612.43,494.99 L613.57,494.95 L614.71,494.91 L615.85,494.87 L616.99,494.84 L618.14,494.80 L619.28,494.76 L620.42,494.72 L621.56,494.68 L622.70,494.64 L623.85,494.60 L624.99,494.56 L626.13,494.52 L627.27,494.48 L628.41,494.44 L629.56,494.40 L630.70,494.36 L631.84,494.32 L632.98,494.28 L634.12,494.23 L635.27,494.19 L636.41,494.15 L637.55,494.11 L638.69,494.06 L639.83,494.02 L640.98,493.97 L642.12,493.93 L643.26,493.89 L644.40,493.84 L645.55,493.80 L646.69,493.75 L647.83,493.71 L648.97,493.66 L650.11,493.61 L651.26,493.57 L652.40,493.52 L653.54,493.47 L654.68,493.43 L655.82,493.38 L656.97,493.33 L658.11,493.28 L659.25,493.23 L660.39,493.19 L661.53,493.14 L662.68,493.09 L663.82,493.04 L664.96,492.99 L666.10,492.94 L667.24,492.89 L668.39,492.84 L669.53,492.78 L670.67,492.73 L671.81,492.68 L672.95,492.63 L674.10,492.58 L675.24,492.52 L676.38,492.47 L677.52,492.42 L678.66,492.36 L679.81,492.31 L680.95,492.25 L682.09,492.20 L683.23,492.14 L684.37,492.09 L685.52,492.03 L686.66,491.97 L687.80,491.92 L688.94,491.86 L690.08,491.80 L691.23,491.75 L692.37,491.69 L693.51,491.63 L694.65,491.57 L695.80,491.51 L696.94,491.45 L698.08,491.39 L699.22,491.33 L700.36,491.27 L701.51,491.21 L702.65,491.15 L703.79,491.09 L704.93,491.03 L706.07,490.97 L707.22,490.90 L708.36,490.84 L709.50,490.78 L710.64,490.71 L711.78,490.65 L712.93,490.58 L714.07,490.52 L715.21,490.45 L716.35,490.39 L717.49,490.32 L718.64,490.26 L719.78,490.19 L720.92,490.12 L722.06,490.06 L723.20,489.99 L724.35,489.92 L725.49,489.85 L726.63,489.78 L727.77,489.71 L728.91,489.64 L730.06,489.57 L731.20,489.50 L732.34,489.43 L733.48,489.36 L734.62,489.29 L735.77,489.22 L736.91,489.14 L738.05,489.07 L739.19,489.00 L740.34,488.92 L741.48,488.85 L742.62,488.78 L743.76,488.70 L744.90,488.63 L746.05,488.55 L747.19,488.47 L748.33,488.40 L749.47,488.32 L750.61,488.24 L751.76,488.17 L752.90,488.09 L754.04,488.01 L755.18,487.93 L756.32,487.85 L757.47,487.77 L758.61,487.69 L759.75,487.61 L760.89,487.53 L762.03,487.45 L763.18,487.36 L764.32,487.28 L765.46,487.20 L766.60,487.12 L767.74,487.03 L768.89,486.95 L770.03,486.86 L771.17,486.78 L772.31,486.69 L773.45,486.61 L774.60,486.52 L775.74,486.43 L776.88,486.35 L778.02,486.26 L779.16,486.17 L780.31,486.08 L781.45,485.99 L782.59,485.90 L783.73,485.81 L784.87,485.72 L786.02,485.63 L787.16,485.54 L788.30,485.45 L789.44,485.36 L790.59,485.26 L791.73,485.17 L792.87,485.08 L794.01,484.98 L795.15,484.89 L796.30,484.79 L797.44,484.70 L798.58,484.60 L799.72,484.50 L800.86,484.41 L802.01,484.31 L803.15,484.21 L804.29,484.11 L805.43,484.01 L806.57,483.91 L807.72,483.81 L808.86,483.71 L810.00,483.61" stroke="#00ff00" stroke-dasharray="4.94 2.02"/>
<path d="M125.91,499.00 L127.06,499.00 L128.20,499.00 L129.34,499.00 L130.48,499.00 L131.62,499.00 L132.77,499.00 L133.91,499.00 L135.05,499.00 L136.19,499.00 L137.33,499.00 L138.48,499.00 L139.62,499.00 L140.76,499.00 L141.90,499.00 L143.04,499.00 L144.19,499.00 L145.33,499.00 L146.47,499.00 L147.61,499.00 L148.75,499.00 L149.90,499.00 L151.04,499.00 L152.18,499.00 L153.32,499.00 L154.46,499.00 L155.61,499.00 L156.75,499.00 L157.89,499.00 L159.03,499.00 L160.17,499.00 L161.32,499.00 L162.46,499.00 L163.60,499.00 L164.74,499.00 L165.89,499.00 L167.03,499.00 L168.17,499.00 L169.31,499.00 L170.45,499.00 L171.60,499.00 L172.74,499.00 L173.88,499.00 L175.02,499.00 L176.16,499.00 L177.31,499.00 L178.45,499.00 L179.59,499.00 L180.73,499.00 L181.87,499.00 L183.02,498.99 L184.16,498.99 L185.30,498.99 L186.44,498.99 L187.58,498.99 L188.73,498.99 L189.87,498.99 L191.01,498.99 L192.15,498.99 L193.29,498.99 L194.44,498.99 L195.58,498.99 L196.72,498.99 L197.86,498.99 L199.00,498.99 L200.15,498.99 L201.29,498.98 L202.43,498.98 L203.57,498.98 L204.71,498.98 L205.86,498.98 L207.00,498.98 L208.14,498.98 L209.28,498.98 L210.42,498.98 L211.57,498.97 L212.71,498.97 L213.85,498.97 L214.99,498.97 L216.14,498.97 L217.28,498.97 L218.42,498.97 L219.56,498.96 L220.70,498.96 L221.85,498.96 L222.99,498.96 L224.13,498.96 L225.27,498.95 L226.41,498.95 L227.56,498.95 L228.70,498.95 L229.84,498.94 L230.98,498.94 L232.12,498.94 L233.27,498.94 L234.41,498.93 L235.55,498.93 L236.69,498.93 L237.83,498.93 L238.98,498.92 L240.12,498.92 L241.26,498.92 L242.40,498.91 L243.54,498.91 L244.69,498.91 L245.83,498.90 L246.97,498.90 L248.11,498.89 L249.25,498.89 L250.40,498.89 L251.54,498.88 L252.68,498.88 L253.82,498.87 L254.96,498.87 L256.11,498.86 L257.25,498.86 L258.39,498.86 L259.53,498.85 L260.67,498.84 L261.82,498.84 L262.96,498.83 L264.10,498.83 L265.24,498.82 L266.39,498.82 L267.53,498.81 L268.67,498.80 L269.81,498.80 L270.95,498.79 L272.10,498.79 L273.24,498.78 L274.38,498.77 L275.52,498.76 L276.66,498.76 L277.81,498.75 L278.95,498.74 L280.09,498.74 L281.23,498.73 L282.37,498.72 L283.52,498.71 L284.66,498.70 L285.80,498.69 L286.94,498.69 L288.08,498.68 L289.23,498.67 L290.37,498.66 L291.51,498.65 L292.65,498.64 L293.79,498.63 L294.94,498.62 L296.08,498.61 L297.22,498.60 L298.36,498.59 L299.50,498.58 L300.65,498.56 L301.79,498.55 L302.93,498.54 L304.07,498.53 L305.21,498.52 L306.36,498.50 L307.50,498.49 L308.64,498.48 L309.78,498.47 L310.93,498.45 L312.07,498.44 L313.21,498.43 L314.35,498.41 L315.49,498.40 L316.64,498.38 L317.78,498.37 L318.92,498.35 L320.06,498.34 L321.20,498.32 L322.35,498.31 L323.49,498.29 L324.63,498.27 L325.77,498.26 L326.91,498.24 L328.06,498.22 L329.20,498.20 L330.34,498.19 L331.48,498.17 L332.62,498.15 L333.77,498.13 L334.91,498.11 L336.05,498.09 L337.19,498.07 L338.33,498.05 L339.48,498.03 L340.62,498.01 L341.76,497.99 L342.90,497.97 L344.04,497.95 L345.19,497.92 L346.33,497.90 L347.47,497.88 L348.61,497.86 L349.75,497.83 L350.90,497.81 L352.04,497.78 L353.18,497.76 L354.32,497.73 L355.46,497.71 L356.61,497.68 L357.75,497.66 L358.89,497.63 L360.03,497.60 L361.18,497.58 L362.32,497.55 L363.46,497.52 L364.60,497.49 L365.74,497.46 L366.89,497.43 L368.03,497.40 L369.17,497.37 L370.31,497.34 L371.45,497.31 L372.60,497.28 L373.74,497.25 L374.88,497.21 L376.02,497.18 L377.16,497.15 L378.31,497.12 L379.45,497.08 L380.59,497.05 L381.73,497.01 L382.87,496.98 L384.02,496.94 L385.16,496.90 L386.30,496.87 L387.44,496.83 L388.58,496.79 L389.73,496.75 L390.87,496.71 L392.01,496.67 L393.15,496.63 L394.29,496.59 L395.44,496.55 L396.58,496.51 L397.72,496.47 L398.86,496.42 L400.00,496.38 L401.15,496.33 L402.29,496.28 L403.43,496.23 L404.57,496.18 L405.72,496.13 L406.86,496.08 L408.00,496.03 L409.14,495.98 L410.28,495.92 L411.43,495.87 L412.57,495.82 L413.71,495.76 L414.85,495.71 L415.99,495.65 L417.14,495.59 L418.28,495.54 L419.42,495.48 L420.56,495.42 L421.70,495.36 L422.85,495.30 L423.99,495.24 L425.13,495.18 L426.27,495.11 L427.41,495.05 L428.56,494.99 L429.70,494.92 L430.84,494.86 L431.98,494.79 L433.12,494.72 L434.27,494.65 L435.41,494.59 L436.55,494.52 L437.69,494.45 L438.83,494.38 L439.98,494.31 L441.12,494.23 L442.26,494.16 L443.40,494.09 L444.54,494.01 L445.69,493.94 L446.83,493.86 L447.97,493.78 L449.11,493.71 L450.25,493.63 L451.40,493.55 L452.54,493.47 L453.68,493.39 L454.82,493.30 L455.97,493.22 L457.11,493.14 L458.25,493.05 L459.39,492.97 L460.53,492.88 L461.68,492.80 L462.82,492.71 L463.96,492.62 L465.10,492.53 L466.24,492.44 L467.39,492.35 L468.53,492.26 L469.67,492.16 L470.81,492.07 L471.95,491.97 L473.10,491.88 L474.24,491.78 L475.38,491.68 L476.52,491.59 L477.66,491.49 L478.81,491.39 L479.95,491.28 L481.09,491.18 L482.23,491.08 L483.37,490.97 L484.52,490.87 L485.66,490.76 L486.80,490.66 L487.94,490.55 L489.08,490.44 L490.23,490.33 L491.37,490.22 L492.51,490.11 L493.65,489.99 L494.79,489.88 L495.94,489.77 L497.08,489.65 L498.22,489.53 L499.36,489.42 L500.51,489.30 L501.65,489.18 L502.79,489.06 L503.93,488.94 L505.07,488.82 L506.22,488.69 L507.36,488.57 L508.50,488.44 L509.64,488.32 L510.78,488.19 L511.93,488.06 L513.07,487.93 L514.21,487.80 L515.35,487.67 L516.49,487.54 L517.64,487.41 L518.78,487.27 L519.92,487.14 L521.06,487.00 L522.20,486.86 L523.35,486.72 L524.49,486.58 L525.63,486.44 L526.77,486.30 L527.91,486.16 L529.06,486.02 L530.20,485.87 L531.34,485.72 L532.48,485.58 L533.62,485.43 L534.77,485.28 L535.91,485.13 L537.05,484.98 L538.19,484.82 L539.33,484.67 L540.48,484.51 L541.62,484.36 L542.76,484.20 L543.90,484.04 L545.04,483.88 L546.19,483.72 L547.33,483.56 L548.47,483.39 L549.61,483.23 L550.76,483.06 L551.90,482.90 L553.04,482.73 L554.18,482.56 L555.32,482.39 L556.47,482.21 L557.61,482.04 L558.75,481.87 L559.89,481.69 L561.03,481.51 L562.18,481.33 L563.32,481.15 L564.46,480.97 L565.60,480.79 L566.74,480.60 L567.89,480.42 L569.03,480.23 L570.17,480.04 L571.31,479.86 L572.45,479.66 L573.60,479.47 L574.74,479.28 L575.88,479.08 L577.02,478.89 L578.16,478.69 L579.31,478.49 L580.45,478.29 L581.59,478.09 L582.73,477.88 L583.87,477.68 L585.02,477.47 L586.16,477.26 L587.30,477.05 L588.44,476.84 L589.58,476.63 L590.73,476.42 L591.87,476.20 L593.01,475.98 L594.15,475.77 L595.30,475.55 L596.44,475.32 L597.58,475.10 L598.72,474.88 L599.86,474.65 L601.01,474.42 L602.15,474.19 L603.29,473.96 L604.43,473.73 L605.57,473.50 L606.72,473.26 L607.86,473.03 L609.00,472.79 L610.14,472.55 L611.28,472.31 L612.43,472.06 L613.57,471.82 L614.71,471.57 L615.85,471.33 L616.99,471.08 L618.14,470.83 L619.28,470.57 L620.42,470.32 L621.56,470.07 L622.70,469.81 L623.85,469.55 L624.99,469.29 L626.13,469.03 L627.27,468.77 L628.41,468.50 L629.56,468.24 L630.70,467.97 L631.84,467.70 L632.98,467.43 L634.12,467.16 L635.27,466.89 L636.41,466.61 L637.55,466.33 L638.69,466.06 L639.83,465.78 L640.98,465.50 L642.12,465.21 L643.26,464.93 L644.40,464.64 L645.55,464.36 L646.69,464.07 L647.83,463.78 L648.97,463.49 L650.11,463.19 L651.26,462.90 L652.40,462.60 L653.54,462.31 L654.68,462.01 L655.82,461.71 L656.97,461.40 L658.11,461.10 L659.25,460.79 L660.39,460.49 L661.53,460.18 L662.68,459.87 L663.82,459.56 L664.96,459.25 L666.10,458.93 L667.24,458.62 L668.39,458.30 L669.53,457.98 L670.67,457.66 L671.81,457.34 L672.95,457.02 L674.10,456.70 L675.24,456.37 L676.38,456.04 L677.52,455.72 L678.66,455.39 L679.81,455.06 L680.95,454.72 L682.09,454.39 L683.23,454.06 L684.37,453.72 L685.52,453.38 L686.66,453.04 L687.80,452.70 L688.94,452.36 L690.08,452.02 L691.23,451.67 L692.37,451.33 L693.51,450.98 L694.65,450.63 L695.80,450.28 L696.94,449.93 L698.08,449.58 L699.22,449.22 L700.36,448.87 L701.51,448.51 L702.65,448.15 L703.79,447.79 L704.93,447.42 L706.07,447.06 L707.22,446.69 L708.36,446.33 L709.50,445.96 L710.64,445.59 L711.78,445.21 L712.93,444.84 L714.07,444.47 L715.21,444.09 L716.35,443.71 L717.49,443.33 L718.64,442.95 L719.78,442.56 L720.92,442.18 L722.06,441.79 L723.20,441.40 L724.35,441.01 L725.49,440.61 L726.63,440.22 L727.77,439.82 L728.91,439.42 L730.06,439.02 L731.20,438.62 L732.34,438.22 L733.48,437.81 L734.62,437.40 L735.77,436.99 L736.91,436.58 L738.05,436.16 L739.19,435.75 L740.34,435.33 L741.48,434.91 L742.62,434.49 L743.76,434.06 L744.90,433.64 L746.05,433.21 L747.19,432.78 L748.33,432.34 L749.47,431.91 L750.61,431.47 L751.76,431.03 L752.90,430.59 L754.04,430.15 L755.18,429.70 L756.32,429.25 L757.47,428.80 L758.61,428.35 L759.75,427.89 L760.89,427.43 L762.03,426.97 L763.18,426.51 L764.32,426.05 L765.46,425.58 L766.60,425.11 L767.74,424.64 L768.89,424.16 L770.03,423.69 L771.17,423.21 L772.31,422.73 L773.45,422.25 L774.60,421.76 L775.74,421.27 L776.88,420.79 L778.02,420.29 L779.16,419.80 L780.31,419.31 L781.45,418.81 L782.59,418.31 L783.73,417.81 L784.87,417.30 L786.02,416.79 L787.16,416.29 L788.30,415.77 L789.44,415.26 L790.59,414.75 L791.73,414.23 L792.87,413.71 L794.01,413.19 L795.15,412.66 L796.30,412.13 L797.44,411.60 L798.58,411.07 L799.72,410.54 L800.86,410.00 L802.01,409.46 L803.15,408.92 L804.29,408.38 L805.43,407.83 L806.57,407.29 L807.72,406.74 L808.86,406.18 L810.00,405.63" stroke="#ff0000"/>
<path d="M125.91,499.00 L127.06,499.00 L128.20,499.00 L129.34,499.00 L130.48,499.00 L131.62,499.00 L132.77,499.00 L133.91,499.00 L135.05,499.00 L136.19,499.00 L137.33,499.00 L138.48,499.00 L139.62,499.00 L140.76,499.00 L141.90,499.00 L143.04,499.00 L144.19,499.00 L145.33,499.00 L146.47,499.00 L147.61,499.00 L148.75,499.00 L149.90,499.00 L151.04,499.00 L152.18,499.00 L153.32,499.00 L154.46,499.00 L155.61,499.00 L156.75,499.00 L157.89,499.00 L159.03,499.00 L160.17,499.00 L161.32,499.00 L162.46,499.00 L163.60,499.00 L164.74,499.00 L165.89,499.00 L167.03,499.00 L168.17,499.00 L169.31,499.00 L170.45,499.00 L171.60,499.00 L172.74,499.00 L173.88,499.00 L175.02,498.99 L176.16,498.99 L177.31,498.99 L178.45,498.99 L179.59,498.99 L180.73,498.99 L181.87,498.99 L183.02,498.99 L184.16,498.99 L185.30,498.99 L186.44,498.99 L187.58,498.99 L188.73,498.99 L189.87,498.99 L191.01,498.98 L192.15,498.98 L193.29,498.98 L194.44,498.98 L195.58,498.98 L196.72,498.98 L197.86,498.98 L199.00,498.97 L200.15,498.97 L201.29,498.97 L202.43,498.97 L203.57,498.97 L204.71,498.97 L205.86,498.96 L207.00,498.96 L208.14,498.96 L209.28,498.96 L210.42,498.96 L211.57,498.95 L212.71,498.95 L213.85,498.95 L214.99,498.94 L216.14,498.94 L217.28,498.94 L218.42,498.94 L219.56,498.93 L220.70,498.93 L221.85,498.93 L222.99,498.92 L224.13,498.92 L225.27,498.91 L226.41,498.91 L227.56,498.91 L228.70,498.90 L229.84,498.90 L230.98,498.89 L232.12,498.89 L233.27,498.88 L234.41,498.88 L235.55,498.87 L236.69,498.87 L237.83,498.86 L238.98,498.86 L240.12,498.85 L241.26,498.85 L242.40,498.84 L243.54,498.83 L244.69,498.83 L245.83,498.82 L246.97,498.81 L248.11,498.81 L249.25,498.80 L250.40,498.79 L251.54,498.78 L252.68,498.78 L253.82,498.77 L254.96,498.76 L256.11,498.75 L257.25,498.74 L258.39,498.73 L259.53,498.72 L260.67,498.71 L261.82,498.70 L262.96,498.69 L264.10,498.68 L265.24,498.67 L266.39,498.66 L267.53,498.65 L268.67,498.64 L269.81,498.63 L270.95,498.62 L272.10,498.61 L273.24,498.59 L274.38,498.58 L275.52,498.57 L276.66,498.55 L277.81,498.54 L278.95,498.53 L280.09,498.51 L281.23,498.50 L282.37,498.48 L283.52,498.47 L284.66,498.45 L285.80,498.44 L286.94,498.42 L288.08,498.40 L289.23,498.39 L290.37,498.37 L291.51,498.35 L292.65,498.33 L293.79,498.32 L294.94,498.30 L296.08,498.28 L297.22,498.26 L298.36,498.24 L299.50,498.22 L300.65,498.20 L301.79,498.18 L302.93,498.16 L304.07,498.13 L305.21,498.11 L306.36,498.09 L307.50,498.07 L308.64,498.03 L309.78,498.00 L310.93,497.97 L312.07,497.93 L313.21,497.90 L314.35,497.86 L315.49,497.83 L316.64,497.79 L317.78,497.75 L318.92,497.71 L320.06,497.67 L321.20,497.63 L322.35,497.59 L323.49,497.55 L324.63,497.51 L325.77,497.46 L326.91,497.42 L328.06,497.37 L329.20,497.32 L330.34,497.28 L331.48,497.23 L332.62,497.18 L333.77,497.13 L334.91,497.08 L336.05,497.02 L337.19,496.97 L338.33,496.92 L339.48,496.86 L340.62,496.80 L341.76,496.75 L342.90,496.69 L344.04,496.63 L345.19,496.57 L346.33,496.51 L347.47,496.44 L348.61,496.38 L349.75,496.32 L350.90,496.25 L352.04,496.18 L353.18,496.11 L354.32,496.05 L355.46,495.98 L356.61,495.90 L357.75,495.83 L358.89,495.76 L360.03,495.68 L361.18,495.61 L362.32,495.53 L363.46,495.45 L364.60,495.37 L365.74,495.29 L366.89,495.21 L368.03,495.13 L369.17,495.05 L370.31,494.96 L371.45,494.87 L372.60,494.79 L373.74,494.70 L374.88,494.61 L376.02,494.52 L377.16,494.43 L378.31,494.33 L379.45,494.24 L380.59,494.14 L381.73,494.05 L382.87,493.95 L384.02,493.85 L385.16,493.75 L386.30,493.65 L387.44,493.54 L388.58,493.44 L389.73,493.33 L390.87,493.23 L392.01,493.12 L393.15,493.01 L394.29,492.90 L395.44,492.79 L396.58,492.67 L397.72,492.56 L398.86,492.45 L400.00,492.33 L401.15,492.21 L402.29,492.09 L403.43,491.97 L404.57,491.85 L405.72,491.73 L406.86,491.61 L408.00,491.48 L409.14,491.36 L410.28,491.24 L411.43,491.11 L412.57,490.98 L413.71,490.85 L414.85,490.72 L415.99,490.59 L417.14,490.46 L418.28,490.33 L419.42,490.19 L420.56,490.06 L421.70,489.92 L422.85,489.79 L423.99,489.65 L425.13,489.51 L426.27,489.37 L427.41,489.23 L428.56,489.09 L429.70,488.94 L430.84,488.80 L431.98,488.65 L433.12,488.50 L434.27,488.36 L435.41,488.21 L436.55,488.05 L437.69,487.90 L438.83,487.75 L439.98,487.59 L441.12,487.44 L442.26,487.28 L443.40,487.12 L444.54,486.96 L445.69,486.80 L446.83,486.64 L447.97,486.47 L449.11,486.30 L450.25,486.14 L451.40,485.97 L452.54,485.80 L453.68,485.63 L454.82,485.45 L455.97,485.28 L457.11,485.10 L458.25,484.92 L459.39,484.74 L460.53,484.56 L461.68,484.37 L462.82,484.19 L463.96,484.00 L465.10,483.81 L466.24,483.62 L467.39,483.43 L468.53,483.23 L469.67,483.04 L470.81,482.84 L471.95,482.64 L473.10,482.44 L474.24,482.23 L475.38,482.02 L476.52,481.81 L477.66,481.60 L478.81,481.39 L479.95,481.17 L481.09,480.96 L482.23,480.74 L483.37,480.51 L484.52,480.29 L485.66,480.06 L486.80,479.83 L487.94,479.60 L489.08,479.37 L490.23,479.13 L491.37,478.89 L492.51,478.65 L493.65,478.40 L494.79,478.16 L495.94,477.91 L497.08,477.66 L498.22,477.40 L499.36,477.15 L500.51,476.89 L501.65,476.63 L502.79,476.37 L503.93,476.10 L505.07,475.83 L506.22,475.56 L507.36,475.29 L508.50,475.02 L509.64,474.74 L510.78,474.46 L511.93,474.18 L513.07,473.90 L514.21,473.61 L515.35,473.32 L516.49,473.03 L517.64,472.74 L518.78,472.44 L519.92,472.14 L521.06,471.84 L522.20,471.54 L523.35,471.23 L524.49,470.92 L525.63,470.61 L526.77,470.30 L527.91,469.98 L529.06,469.66 L530.20,469.34 L531.34,469.02 L532.48,468.69 L533.62,468.36 L534.77,468.03 L535.91,467.70 L537.05,467.36 L538.19,467.03 L539.33,466.68 L540.48,466.34 L541.62,466.00 L542.76,465.65 L543.90,465.30 L545.04,464.94 L546.19,464.58 L547.33,464.23 L548.47,463.86 L549.61,463.50 L550.76,463.13 L551.90,462.76 L553.04,462.39 L554.18,462.02 L555.32,461.64 L556.47,461.26 L557.61,460.88 L558.75,460.49 L559.89,460.11 L561.03,459.72 L562.18,459.32 L563.32,458.93 L564.46,458.53 L565.60,458.13 L566.74,457.73 L567.89,457.32 L569.03,456.91 L570.17,456.50 L571.31,456.09 L572.45,455.67 L573.60,455.25 L574.74,454.83 L575.88,454.41 L577.02,453.98 L578.16,453.55 L579.31,453.12 L580.45,452.69 L581.59,452.25 L582.73,451.81 L583.87,451.37 L585.02,450.93 L586.16,450.48 L587.30,450.03 L588.44,449.58 L589.58,449.13 L590.73,448.68 L591.87,448.22 L593.01,447.76 L594.15,447.30 L595.30,446.84 L596.44,446.37 L597.58,445.90 L598.72,445.43 L599.86,444.96 L601.01,444.48 L602.15,444.00 L603.29,443.52 L604.43,443.03 L605.57,442.55 L606.72,442.06 L607.86,441.56 L609.00,441.06 L610.14,440.56 L611.28,440.06 L612.43,439.55 L613.57,439.04 L614.71,438.53 L615.85,438.01 L616.99,437.49 L618.14,436.97 L619.28,436.44 L620.42,435.90 L621.56,435.37 L622.70,434.83 L623.85,434.28 L624.99,433.74 L626.13,433.18 L627.27,432.63 L628.41,432.07 L629.56,431.50 L630.70,430.93 L631.84,430.36 L632.98,429.78 L634.12,429.19 L635.27,428.60 L636.41,428.01 L637.55,427.41 L638.69,426.80 L639.83,426.18 L640.98,425.56 L642.12,424.94 L643.26,424.30 L644.40,423.67 L645.55,423.02 L646.69,422.38 L647.83,421.72 L648.97,421.06 L650.11,420.40 L651.26,419.73 L652.40,419.06 L653.54,418.39 L654.68,417.71 L655.82,417.03 L656.97,416.35 L658.11,415.66 L659.25,414.97 L660.39,414.28 L661.53,413.58 L662.68,412.89 L663.82,412.19 L664.96,411.49 L666.10,410.79 L667.24,410.09 L668.39,409.39 L669.53,408.69 L670.67,407.99 L671.81,407.29 L672.95,406.60 L674.10,405.90 L675.24,405.20 L676.38,404.50 L677.52,403.81 L678.66,403.11 L679.81,402.41 L680.95,401.71 L682.09,401.01 L683.23,400.31 L684.37,399.60 L685.52,398.90 L686.66,398.20 L687.80,397.49 L688.94,396.78 L690.08,396.07 L691.23,395.36 L692.37,394.65 L693.51,393.93 L694.65,393.21 L695.80,392.49 L696.94,391.77 L698.08,391.04 L699.22,390.31 L700.36,389.58 L701.51,388.84 L702.65,388.10 L703.79,387.36 L704.93,386.61 L706.07,385.86 L707.22,385.10 L708.36,384.34 L709.50,383.58 L710.64,382.81 L711.78,382.03 L712.93,381.25 L714.07,380.47 L715.21,379.68 L716.35,378.89 L717.49,378.10 L718.64,377.30 L719.78,376.49 L720.92,375.69 L722.06,374.88 L723.20,374.06 L724.35,373.24 L725.49,372.42 L726.63,371.60 L727.77,370.77 L728.91,369.94 L730.06,369.11 L731.20,368.28 L732.34,367.44 L733.48,366.60 L734.62,365.76 L735.77,364.91 L736.91,364.06 L738.05,363.22 L739.19,362.36 L740.34,361.51 L741.48,360.66 L742.62,359.80 L743.76,358.94 L744.90,358.08 L746.05,357.23 L747.19,356.37 L748.33,355.51 L749.47,354.65 L750.61,353.79 L751.76,352.93 L752.90,352.07 L754.04,351.21 L755.18,350.34 L756.32,349.47 L757.47,348.60 L758.61,347.72 L759.75,346.83 L760.89,345.95 L762.03,345.05 L763.18,344.15 L764.32,343.24 L765.46,342.32 L766.60,341.38 L767.74,340.43 L768.89,339.47 L770.03,338.52 L771.17,337.57 L772.31,336.62 L773.45,335.70 L774.60,334.79 L775.74,333.89 L776.88,333.00 L778.02,332.10 L779.16,331.21 L780.31,330.31 L781.45,329.42 L782.59,328.52 L783.73,327.63 L784.87,326.74 L786.02,325.85 L787.16,324.97 L788.30,324.08 L789.44,323.20 L790.59,322.32 L791.73,321.45 L792.87,320.57 L794.01,319.70 L795.15,318.84 L796.30,317.98 L797.44,317.12 L798.58,316.27 L799.72,315.42 L800.86,314.57 L802.01,313.74 L803.15,312.90 L804.29,312.08 L805.43,311.26 L806.57,310.44 L807.72,309.63 L808.86,308.83 L810.00,308.04" stroke="#00ffff" stroke-dasharray="6.10 2.02 1.46 2.02"/>
<path d="M125.91,499.00 L127.06,499.00 L128.20,499.00 L129.34,499.00 L130.48,499.00 L131.62,499.00 L132.77,499.00 L133.91,499.00 L135.05,499.00 L136.19,499.00 L137.33,499.00 L138.48,499.00 L139.62,499.00 L140.76,499.00 L141.90,499.00 L143.04,499.00 L144.19,499.00 L145.33,499.00 L146.47,499.00 L147.61,499.00 L148.75,499.00 L149.90,499.00 L151.04,499.00 L152.18,499.00 L153.32,499.00 L154.46,499.00 L155.61,499.00 L156.75,499.00 L157.89,499.00 L159.03,499.00 L160.17,499.00 L161.32,499.00 L162.46,499.00 L163.60,498.99 L164.74,498.99 L165.89,498.99 L167.03,498.99 L168.17,498.99 L169.31,498.99 L170.45,498.99 L171.60,498.99 L172.74,498.99 L173.88,498.99 L175.02,498.99 L176.16,498.98 L177.31,498.98 L178.45,498.98 L179.59,498.98 L180.73,498.98 L181.87,498.98 L183.02,498.97 L184.16,498.97 L185.30,498.97 L186.44,498.97 L187.58,498.96 L188.73,498.96 L189.87,498.96 L191.01,498.96 L192.15,498.95 L193.29,498.95 L194.44,498.95 L195.58,498.94 L196.72,498.94 L197.86,498.93 L199.00,498.93 L200.15,498.93 L201.29,498.92 L202.43,498.92 L203.57,498.91 L204.71,498.91 L205.86,498.90 L207.00,498.90 L208.14,498.89 L209.28,498.88 L210.42,498.88 L211.57,498.87 L212.71,498.86 L213.85,498.86 L214.99,498.85 L216.14,498.84 L217.28,498.83 L218.42,498.82 L219.56,498.81 L220.70,498.81 L221.85,498.80 L222.99,498.79 L224.13,498.78 L225.27,498.77 L226.41,498.75 L227.56,498.74 L228.70,498.73 L229.84,498.72 L230.98,498.71 L232.12,498.69 L233.27,498.68 L234.41,498.67 L235.55,498.65 L236.69,498.64 L237.83,498.62 L238.98,498.61 L240.12,498.59 L241.26,498.58 L242.40,498.56 L243.54,498.54 L244.69,498.52 L245.83,498.51 L246.97,498.49 L248.11,498.47 L249.25,498.45 L250.40,498.43 L251.54,498.41 L252.68,498.38 L253.82,498.36 L254.96,498.34 L256.11,498.32 L257.25,498.29 L258.39,498.27 L259.53,498.24 L260.67,498.21 L261.82,498.19 L262.96,498.16 L264.10,498.13 L265.24,498.10 L266.39,498.07 L267.53,498.04 L268.67,498.01 L269.81,497.98 L270.95,497.95 L272.10,497.91 L273.24,497.88 L274.38,497.85 L275.52,497.81 L276.66,497.77 L277.81,497.74 L278.95,497.70 L280.09,497.66 L281.23,497.62 L282.37,497.58 L283.52,497.54 L284.66,497.49 L285.80,497.45 L286.94,497.41 L288.08,497.36 L289.23,497.31 L290.37,497.27 L291.51,497.22 L292.65,497.17 L293.79,497.12 L294.94,497.07 L296.08,497.01 L297.22,496.96 L298.36,496.91 L299.50,496.85 L300.65,496.79 L301.79,496.74 L302.93,496.68 L304.07,496.62 L305.21,496.56 L306.36,496.49 L307.50,496.43 L308.64,496.35 L309.78,496.26 L310.93,496.18 L312.07,496.09 L313.21,496.00 L314.35,495.91 L315.49,495.81 L316.64,495.72 L317.78,495.62 L318.92,495.52 L320.06,495.42 L321.20,495.32 L322.35,495.22 L323.49,495.11 L324.63,495.00 L325.77,494.89 L326.91,494.78 L328.06,494.67 L329.20,494.56 L330.34,494.44 L331.48,494.32 L332.62,494.20 L333.77,494.08 L334.91,493.96 L336.05,493.83 L337.19,493.70 L338.33,493.58 L339.48,493.44 L340.62,493.31 L341.76,493.18 L342.90,493.04 L344.04,492.91 L345.19,492.77 L346.33,492.63 L347.47,492.48 L348.61,492.34 L349.75,492.19 L350.90,492.05 L352.04,491.90 L353.18,491.75 L354.32,491.60 L355.46,491.44 L356.61,491.29 L357.75,491.14 L358.89,490.98 L360.03,490.83 L361.18,490.67 L362.32,490.51 L363.46,490.35 L364.60,490.19 L365.74,490.03 L366.89,489.87 L368.03,489.71 L369.17,489.54 L370.31,489.38 L371.45,489.21 L372.60,489.04 L373.74,488.87 L374.88,488.69 L376.02,488.52 L377.16,488.34 L378.31,488.17 L379.45,487.99 L380.59,487.80 L381.73,487.62 L382.87,487.43 L384.02,487.24 L385.16,487.05 L386.30,486.85 L387.44,486.66 L388.58,486.45 L389.73,486.25 L390.87,486.04 L392.01,485.83 L393.15,485.62 L394.29,485.40 L395.44,485.18 L396.58,484.95 L397.72,484.72 L398.86,484.48 L400.00,484.24 L401.15,484.00 L402.29,483.75 L403.43,483.50 L404.57,483.25 L405.72,482.99 L406.86,482.73 L408.00,482.46 L409.14,482.19 L410.28,481.91 L411.43,481.63 L412.57,481.35 L413.71,481.06 L414.85,480.77 L415.99,480.47 L417.14,480.17 L418.28,479.87 L419.42,479.56 L420.56,479.25 L421.70,478.93 L422.85,478.61 L423.99,478.28 L425.13,477.95 L426.27,477.62 L427.41,477.28 L428.56,476.94 L429.70,476.59 L430.84,476.24 L431.98,475.88 L433.12,475.52 L434.27,475.16 L435.41,474.79 L436.55,474.41 L437.69,474.03 L438.83,473.65 L439.98,473.26 L441.12,472.87 L442.26,472.48 L443.40,472.08 L444.54,471.67 L445.69,471.26 L446.83,470.85 L447.97,470.43 L449.11,470.01 L450.25,469.58 L451.40,469.15 L452.54,468.71 L453.68,468.28 L454.82,467.83 L455.97,467.38 L457.11,466.93 L458.25,466.47 L459.39,466.01 L460.53,465.55 L461.68,465.08 L462.82,464.61 L463.96,464.13 L465.10,463.65 L466.24,463.16 L467.39,462.68 L468.53,462.18 L469.67,461.69 L470.81,461.19 L471.95,460.68 L473.10,460.17 L474.24,459.66 L475.38,459.14 L476.52,458.63 L477.66,458.10 L478.81,457.58 L479.95,457.05 L481.09,456.51 L482.23,455.98 L483.37,455.44 L484.52,454.89 L485.66,454.35 L486.80,453.80 L487.94,453.25 L489.08,452.69 L490.23,452.13 L491.37,451.57 L492.51,451.01 L493.65,450.44 L494.79,449.87 L495.94,449.30 L497.08,448.72 L498.22,448.15 L499.36,447.57 L500.51,446.98 L501.65,446.39 L502.79,445.80 L503.93,445.21 L505.07,444.61 L506.22,444.01 L507.36,443.41 L508.50,442.80 L509.64,442.19 L510.78,441.58 L511.93,440.96 L513.07,440.34 L514.21,439.71 L515.35,439.08 L516.49,438.45 L517.64,437.81 L518.78,437.17 L519.92,436.52 L521.06,435.87 L522.20,435.21 L523.35,434.55 L524.49,433.89 L525.63,433.22 L526.77,432.55 L527.91,431.87 L529.06,431.18 L530.20,430.49 L531.34,429.80 L532.48,429.10 L533.62,428.39 L534.77,427.69 L535.91,426.98 L537.05,426.26 L538.19,425.55 L539.33,424.83 L540.48,424.11 L541.62,423.38 L542.76,422.65 L543.90,421.92 L545.04,421.18 L546.19,420.44 L547.33,419.70 L548.47,418.95 L549.61,418.20 L550.76,417.44 L551.90,416.67 L553.04,415.90 L554.18,415.13 L555.32,414.34 L556.47,413.56 L557.61,412.76 L558.75,411.96 L559.89,411.15 L561.03,410.33 L562.18,409.51 L563.32,408.67 L564.46,407.83 L565.60,406.98 L566.74,406.12 L567.89,405.25 L569.03,404.38 L570.17,403.49 L571.31,402.59 L572.45,401.68 L573.60,400.74 L574.74,399.78 L575.88,398.81 L577.02,397.84 L578.16,396.86 L579.31,395.88 L580.45,394.91 L581.59,393.96 L582.73,393.03 L583.87,392.10 L585.02,391.18 L586.16,390.27 L587.30,389.36 L588.44,388.45 L589.58,387.54 L590.73,386.63 L591.87,385.71 L593.01,384.79 L594.15,383.86 L595.30,382.91 L596.44,381.95 L597.58,380.98 L598.72,380.00 L599.86,379.01 L601.01,378.02 L602.15,377.01 L603.29,376.00 L604.43,374.98 L605.57,373.95 L606.72,372.92 L607.86,371.87 L609.00,370.83 L610.14,369.77 L611.28,368.71 L612.43,367.65 L613.57,366.58 L614.71,365.50 L615.85,364.42 L616.99,363.34 L618.14,362.25 L619.28,361.16 L620.42,360.06 L621.56,358.96 L622.70,357.86 L623.85,356.75 L624.99,355.63 L626.13,354.50 L627.27,353.37 L628.41,352.23 L629.56,351.08 L630.70,349.93 L631.84,348.77 L632.98,347.61 L634.12,346.44 L635.27,345.28 L636.41,344.11 L637.55,342.94 L638.69,341.78 L639.83,340.61 L640.98,339.45 L642.12,338.29 L643.26,337.13 L644.40,335.98 L645.55,334.83 L646.69,333.70 L647.83,332.58 L648.97,331.48 L650.11,330.39 L651.26,329.31 L652.40,328.24 L653.54,327.17 L654.68,326.10 L655.82,325.03 L656.97,323.95 L658.11,322.88 L659.25,321.79 L660.39,320.69 L661.53,319.57 L662.68,318.44 L663.82,317.29 L664.96,316.11 L666.10,314.91 L667.24,313.67 L668.39,312.41 L669.53,311.11 L670.67,309.76 L671.81,308.35 L672.95,306.90 L674.10,305.41 L675.24,303.88 L676.38,302.33 L677.52,300.77 L678.66,299.20 L679.81,297.63 L680.95,296.08 L682.09,294.54 L683.23,293.03 L683.64,292.50" stroke="#ff00ff" stroke-dasharray="1.46 1.44"/>
<path d="M727.3,38.5 H785.0" stroke="#0000ff" stroke-dasharray="2.62 3.18"/>
<path d="M727.3,59.5 H785.0" stroke="#ff0000"/>
<path d="M212.9,310.3 H270.6" stroke="#00ff00" stroke-dasharray="4.94 2.02"/>
<path d="M212.9,331.05 H270.6" stroke="#ff0000"/>
<path d="M212.9,352.1 H270.6" stroke="#00ffff" stroke-dasharray="6.10 2.02 1.46 2.02"/>
<path d="M212.9,373.0 H270.6" stroke="#ff00ff" stroke-dasharray="1.46 1.44"/>
</g>
<g fill="none" stroke="#000" stroke-width="1.55">
<rect x="125.00" y="20.70" width="685.00" height="271.80"/>
<rect x="125.00" y="292.50" width="685.00" height="229.50"/>
</g>
<g fill="none" stroke="#ff0000" stroke-width="1.3">
<path d="M404.7,405.2 V522.00"/>
<path d="M400.40,509.0 L404.7,522.00 L409.00,509.0"/>
</g>
<g font-family='"Liberation Serif", serif' font-size="20.8" fill="#000" stroke="#000" stroke-width="0.25" opacity="0.999">
<text x="112.9" y="299.65" text-anchor="end">0</text>
<text x="112.9" y="254.35" text-anchor="end">1000</text>
<text x="112.9" y="209.05" text-anchor="end">2000</text>
<text x="112.9" y="163.75" text-anchor="end">3000</text>
<text x="112.9" y="118.45" text-anchor="end">4000</text>
<text x="112.9" y="73.15" text-anchor="end">5000</text>
<text x="112.9" y="27.85" text-anchor="end">6000</text>
<text x="112.9" y="529.61" text-anchor="end">-5</text>
<text x="112.9" y="506.15" text-anchor="end">0</text>
<text x="112.9" y="482.69" text-anchor="end">5</text>
<text x="112.9" y="459.23" text-anchor="end">10</text>
<text x="112.9" y="435.77" text-anchor="end">15</text>
<text x="112.9" y="412.31" text-anchor="end">20</text>
<text x="112.9" y="388.85" text-anchor="end">25</text>
<text x="112.9" y="365.39" text-anchor="end">30</text>
<text x="112.9" y="341.93" text-anchor="end">35</text>
<text x="112.9" y="318.47" text-anchor="end">40</text>
<text x="126.70" y="550.4" text-anchor="middle">0</text>
<text x="218.63" y="550.4" text-anchor="middle">200</text>
<text x="309.97" y="550.4" text-anchor="middle">400</text>
<text x="401.30" y="550.4" text-anchor="middle">600</text>
<text x="492.63" y="550.4" text-anchor="middle">800</text>
<text x="585.07" y="550.4" text-anchor="middle">1000</text>
<text x="676.40" y="550.4" text-anchor="middle">1200</text>
<text x="767.73" y="550.4" text-anchor="middle">1400</text>
<text x="467.9" y="581.3" text-anchor="middle" font-style="italic">l</text>
<text x="714.6" y="45.5" text-anchor="end">Original</text>
<text x="714.6" y="66.6" text-anchor="end">Recovered (e<tspan dy="0.7">=</tspan><tspan dy="-0.7">0.6)</tspan></text>
<text x="200.0" y="317.85" text-anchor="end">e<tspan dy="0.7">=</tspan><tspan dy="-0.7">0.4</tspan></text>
<text x="200.0" y="338.75" text-anchor="end">e<tspan dy="0.7">=</tspan><tspan dy="-0.7">0.6</tspan></text>
<text x="200.0" y="359.65" text-anchor="end">e<tspan dy="0.7">=</tspan><tspan dy="-0.7">0.7</tspan></text>
<text x="200.0" y="380.55" text-anchor="end">e<tspan dy="0.7">=</tspan><tspan dy="-0.7">0.8</tspan></text>
<text y="402.8"><tspan x="389.7" font-style="italic">l</tspan><tspan x="395.8" textLength="12.3" lengthAdjust="spacingAndGlyphs">σ</tspan><tspan x="413.4" dy="1.4">=</tspan><tspan x="429.3" dy="-1.4">1</tspan></text>
<text transform="translate(31.9,166.3) rotate(-90)">C<tspan font-style="italic" font-size="16.64" dy="7.0">l</tspan></text>
<text transform="translate(56.8,498.9) rotate(-90)">Percentage error in C<tspan font-style="italic" font-size="16.64" dy="7.0">l</tspan></text>
</g>
</svg>
</body></html>
